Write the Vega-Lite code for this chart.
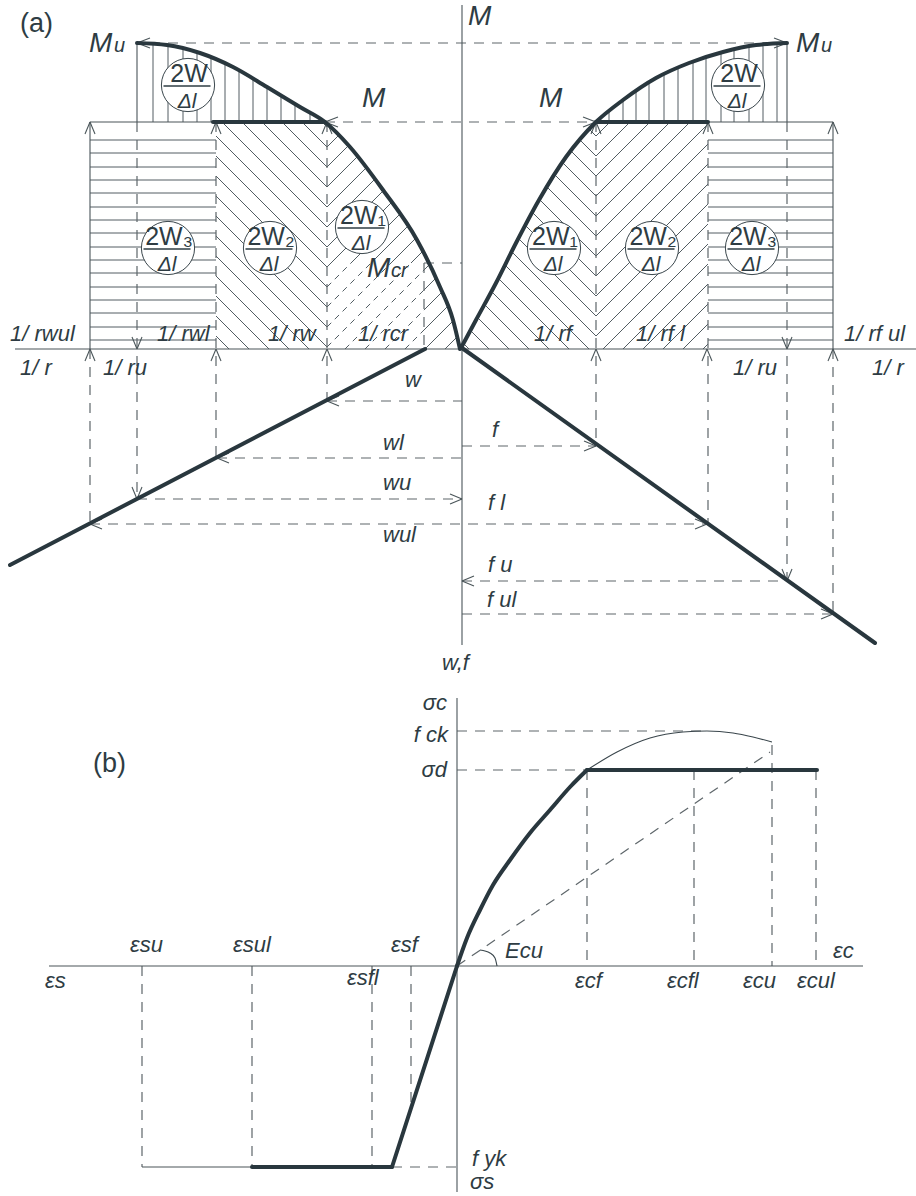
{
"$schema": "https://vega.github.io/schema/vega-lite/v6.json",
"width": 916, "height": 1196, "autosize": "none", "padding": 0, "background": "white",
"config": {"view": {"stroke": null}},
"datasets": {
"thin": [
{"x":462,"y":5,"x2":462,"y2":645},{"x":15,"y":349,"x2":916,"y2":349},{"x":90,"y":122,"x2":90,"y2":349},{"x":90,"y":122,"x2":213,"y2":122},{"x":137,"y":43,"x2":137,"y2":122},{"x":708,"y":122,"x2":833,"y2":122},{"x":833,"y":122,"x2":833,"y2":349},{"x":787,"y":43,"x2":787,"y2":122},
{"x":457,"y":698,"x2":457,"y2":1192},{"x":49,"y":966,"x2":863,"y2":966},{"x":142,"y":1167,"x2":252,"y2":1167},
{"x":137,"y":43,"x2":150,"y2":38},{"x":137,"y":43,"x2":150,"y2":48},{"x":787,"y":43,"x2":774,"y2":38},{"x":787,"y":43,"x2":774,"y2":48},
{"x":325,"y":122,"x2":338,"y2":117},{"x":325,"y":122,"x2":338,"y2":127},{"x":596,"y":122,"x2":583,"y2":117},{"x":596,"y":122,"x2":583,"y2":127},
{"x":90,"y":122,"x2":85,"y2":134},{"x":90,"y":122,"x2":95,"y2":134},{"x":216,"y":122,"x2":211,"y2":134},{"x":216,"y":122,"x2":221,"y2":134},{"x":327,"y":122,"x2":322,"y2":134},{"x":327,"y":122,"x2":332,"y2":134},
{"x":596,"y":122,"x2":591,"y2":134},{"x":596,"y":122,"x2":601,"y2":134},{"x":708,"y":122,"x2":703,"y2":134},{"x":708,"y":122,"x2":713,"y2":134},{"x":833,"y":122,"x2":828,"y2":134},{"x":833,"y":122,"x2":838,"y2":134},
{"x":90,"y":349,"x2":85,"y2":361},{"x":90,"y":349,"x2":95,"y2":361},{"x":216,"y":349,"x2":211,"y2":361},{"x":216,"y":349,"x2":221,"y2":361},{"x":327,"y":349,"x2":322,"y2":361},{"x":327,"y":349,"x2":332,"y2":361},
{"x":596,"y":349,"x2":591,"y2":361},{"x":596,"y":349,"x2":601,"y2":361},{"x":707,"y":349,"x2":702,"y2":361},{"x":707,"y":349,"x2":712,"y2":361},{"x":833,"y":349,"x2":828,"y2":361},{"x":833,"y":349,"x2":838,"y2":361},
{"x":137,"y":349,"x2":132,"y2":337},{"x":137,"y":349,"x2":142,"y2":337},{"x":787,"y":349,"x2":782,"y2":337},{"x":787,"y":349,"x2":792,"y2":337},
{"x":137,"y":499,"x2":132,"y2":487},{"x":137,"y":499,"x2":142,"y2":487},{"x":787,"y":581,"x2":782,"y2":569},{"x":787,"y":581,"x2":792,"y2":569},
{"x":327,"y":401,"x2":339,"y2":396},{"x":327,"y":401,"x2":339,"y2":406},{"x":217,"y":458,"x2":229,"y2":453},{"x":217,"y":458,"x2":229,"y2":463},{"x":90,"y":524,"x2":102,"y2":519},{"x":90,"y":524,"x2":102,"y2":529},
{"x":462,"y":499,"x2":450,"y2":494},{"x":462,"y":499,"x2":450,"y2":504},
{"x":596,"y":446,"x2":584,"y2":441},{"x":596,"y":446,"x2":584,"y2":451},{"x":707,"y":524,"x2":695,"y2":519},{"x":707,"y":524,"x2":695,"y2":529},{"x":833,"y":614,"x2":821,"y2":609},{"x":833,"y":614,"x2":821,"y2":619},
{"x":462,"y":581,"x2":474,"y2":576},{"x":462,"y":581,"x2":474,"y2":586}
],
"dashed": [
{"x":150,"y":43,"x2":774,"y2":43},{"x":325,"y":122,"x2":596,"y2":122},{"x":137,"y":122,"x2":137,"y2":499},{"x":216,"y":122,"x2":216,"y2":458},{"x":327,"y":122,"x2":327,"y2":401},{"x":90,"y":349,"x2":90,"y2":524},
{"x":596,"y":122,"x2":596,"y2":446},{"x":708,"y":122,"x2":708,"y2":524},{"x":787,"y":122,"x2":787,"y2":581},{"x":833,"y":349,"x2":833,"y2":614},
{"x":424,"y":263,"x2":462,"y2":263},{"x":424,"y":263,"x2":424,"y2":349},
{"x":327,"y":401,"x2":462,"y2":401},{"x":217,"y":458,"x2":462,"y2":458},{"x":462,"y":446,"x2":596,"y2":446},{"x":137,"y":499,"x2":462,"y2":499},{"x":90,"y":524,"x2":707,"y2":524},{"x":462,"y":581,"x2":787,"y2":581},{"x":462,"y":614,"x2":833,"y2":614},
{"x":457,"y":731,"x2":707,"y2":731},{"x":457,"y":770,"x2":587,"y2":770},{"x":587,"y":770,"x2":587,"y2":966},{"x":694,"y":770,"x2":694,"y2":966},{"x":772,"y":745,"x2":772,"y2":966},{"x":816,"y":770,"x2":816,"y2":966},
{"x":457,"y":966,"x2":770,"y2":752},
{"x":142,"y":966,"x2":142,"y2":1167},{"x":252,"y":966,"x2":252,"y2":1167},{"x":372,"y":966,"x2":372,"y2":1167},{"x":411,"y":966,"x2":411,"y2":1105},{"x":392,"y":1167,"x2":457,"y2":1167}
],
"hatch": [
{"x":153,"y":44,"x2":153,"y2":122},{"x":168,"y":45,"x2":168,"y2":122},{"x":183,"y":49,"x2":183,"y2":122},{"x":197,"y":52,"x2":197,"y2":122},{"x":211,"y":58,"x2":211,"y2":122},{"x":225,"y":64,"x2":225,"y2":122},{"x":239,"y":70,"x2":239,"y2":122},{"x":253,"y":79,"x2":253,"y2":122},{"x":267,"y":87,"x2":267,"y2":122},{"x":281,"y":95,"x2":281,"y2":122},{"x":295,"y":104,"x2":295,"y2":122},{"x":310,"y":113,"x2":310,"y2":122},
{"x":609,"y":111,"x2":609,"y2":122},{"x":623,"y":100,"x2":623,"y2":122},{"x":636,"y":91,"x2":636,"y2":122},{"x":649,"y":83,"x2":649,"y2":122},{"x":664,"y":74,"x2":664,"y2":122},{"x":678,"y":68,"x2":678,"y2":122},{"x":693,"y":62,"x2":693,"y2":122},{"x":706,"y":57,"x2":706,"y2":122},{"x":721,"y":53,"x2":721,"y2":122},{"x":734,"y":50,"x2":734,"y2":122},{"x":749,"y":46,"x2":749,"y2":122},{"x":763,"y":44,"x2":763,"y2":122},{"x":777,"y":44,"x2":777,"y2":122},
{"x":90,"y":140,"x2":216,"y2":140},{"x":90,"y":153,"x2":216,"y2":153},{"x":90,"y":167,"x2":216,"y2":167},{"x":90,"y":180,"x2":216,"y2":180},{"x":90,"y":193,"x2":216,"y2":193},{"x":90,"y":207,"x2":216,"y2":207},{"x":90,"y":220,"x2":216,"y2":220},{"x":90,"y":233,"x2":216,"y2":233},{"x":90,"y":247,"x2":216,"y2":247},{"x":90,"y":260,"x2":216,"y2":260},{"x":90,"y":273,"x2":216,"y2":273},{"x":90,"y":287,"x2":216,"y2":287},{"x":90,"y":300,"x2":216,"y2":300},{"x":90,"y":313,"x2":216,"y2":313},{"x":90,"y":327,"x2":216,"y2":327},{"x":90,"y":340,"x2":216,"y2":340},
{"x":708,"y":140,"x2":833,"y2":140},{"x":708,"y":153,"x2":833,"y2":153},{"x":708,"y":167,"x2":833,"y2":167},{"x":708,"y":180,"x2":833,"y2":180},{"x":708,"y":193,"x2":833,"y2":193},{"x":708,"y":207,"x2":833,"y2":207},{"x":708,"y":220,"x2":833,"y2":220},{"x":708,"y":233,"x2":833,"y2":233},{"x":708,"y":247,"x2":833,"y2":247},{"x":708,"y":260,"x2":833,"y2":260},{"x":708,"y":273,"x2":833,"y2":273},{"x":708,"y":287,"x2":833,"y2":287},{"x":708,"y":300,"x2":833,"y2":300},{"x":708,"y":313,"x2":833,"y2":313},{"x":708,"y":327,"x2":833,"y2":327},{"x":708,"y":340,"x2":833,"y2":340},
{"x":322,"y":122,"x2":327,"y2":127},{"x":302,"y":122,"x2":327,"y2":147},{"x":282,"y":122,"x2":327,"y2":167},{"x":262,"y":122,"x2":327,"y2":187},{"x":242,"y":122,"x2":327,"y2":207},{"x":222,"y":122,"x2":327,"y2":227},{"x":216,"y":136,"x2":327,"y2":247},{"x":216,"y":156,"x2":327,"y2":267},{"x":216,"y":176,"x2":327,"y2":287},{"x":216,"y":196,"x2":327,"y2":307},{"x":216,"y":216,"x2":327,"y2":327},{"x":216,"y":236,"x2":327,"y2":347},{"x":216,"y":256,"x2":309,"y2":349},{"x":216,"y":276,"x2":289,"y2":349},{"x":216,"y":296,"x2":269,"y2":349},{"x":216,"y":316,"x2":249,"y2":349},{"x":216,"y":336,"x2":229,"y2":349},
{"x":327,"y":147,"x2":338.5,"y2":135.5},{"x":327,"y":167,"x2":348.5,"y2":145.5},{"x":327,"y":187,"x2":357.4,"y2":156.6},{"x":327,"y":207,"x2":366.1,"y2":167.9},{"x":327,"y":227,"x2":374.8,"y2":179.2},{"x":327,"y":247,"x2":383.4,"y2":190.6},{"x":327,"y":267,"x2":391.5,"y2":202.5},{"x":351,"y":263,"x2":399.6,"y2":214.4},{"x":371,"y":263,"x2":407.7,"y2":226.3},{"x":391,"y":263,"x2":415.8,"y2":238.2},{"x":411,"y":263,"x2":422.6,"y2":251.4},{"x":424,"y":270,"x2":429.2,"y2":264.8},{"x":424,"y":290,"x2":435.7,"y2":278.3},{"x":424,"y":310,"x2":442,"y2":292},{"x":424,"y":330,"x2":447.6,"y2":306.4},{"x":425,"y":349,"x2":453.2,"y2":320.8},{"x":445,"y":349,"x2":457.1,"y2":336.9},
{"x":589.5,"y":129.5,"x2":596,"y2":136},{"x":580.3,"y":140.3,"x2":596,"y2":156},{"x":571.1,"y":151.1,"x2":596,"y2":176},{"x":562.5,"y":162.5,"x2":596,"y2":196},{"x":554.8,"y":174.8,"x2":596,"y2":216},{"x":547.1,"y":187.1,"x2":596,"y2":236},{"x":539.4,"y":199.4,"x2":596,"y2":256},{"x":532.4,"y":212.4,"x2":596,"y2":276},{"x":525.4,"y":225.4,"x2":596,"y2":296},{"x":518.4,"y":238.4,"x2":596,"y2":316},{"x":511.7,"y":251.7,"x2":596,"y2":336},{"x":505,"y":265,"x2":589,"y2":349},{"x":498.3,"y":278.3,"x2":569,"y2":349},{"x":491.4,"y":291.4,"x2":549,"y2":349},{"x":484.4,"y":304.4,"x2":529,"y2":349},{"x":477.4,"y":317.4,"x2":509,"y2":349},{"x":470.4,"y":330.4,"x2":489,"y2":349},{"x":463.4,"y":343.4,"x2":469,"y2":349},
{"x":596,"y":136,"x2":610,"y2":122},{"x":596,"y":156,"x2":630,"y2":122},{"x":596,"y":176,"x2":650,"y2":122},{"x":596,"y":196,"x2":670,"y2":122},{"x":596,"y":216,"x2":690,"y2":122},{"x":596,"y":236,"x2":708,"y2":124},{"x":596,"y":256,"x2":708,"y2":144},{"x":596,"y":276,"x2":708,"y2":164},{"x":596,"y":296,"x2":708,"y2":184},{"x":596,"y":316,"x2":708,"y2":204},{"x":596,"y":336,"x2":708,"y2":224},{"x":603,"y":349,"x2":708,"y2":244},{"x":623,"y":349,"x2":708,"y2":264},{"x":643,"y":349,"x2":708,"y2":284},{"x":663,"y":349,"x2":708,"y2":304},{"x":683,"y":349,"x2":708,"y2":324},{"x":703,"y":349,"x2":708,"y2":344}
],
"hatchDash": [
{"x":327,"y":287,"x2":351,"y2":263},{"x":327,"y":307,"x2":371,"y2":263},{"x":327,"y":327,"x2":391,"y2":263},{"x":327,"y":347,"x2":411,"y2":263},{"x":345,"y":349,"x2":424,"y2":270},{"x":365,"y":349,"x2":424,"y2":290},{"x":385,"y":349,"x2":424,"y2":310},{"x":405,"y":349,"x2":424,"y2":330}
],
"thick": [
{"s":"L","i":0,"x":137,"y":43},{"s":"L","i":1,"x":167,"y":45},{"s":"L","i":2,"x":200,"y":53},{"s":"L","i":3,"x":233,"y":67},{"s":"L","i":4,"x":267,"y":87},{"s":"L","i":5,"x":300,"y":107},{"s":"L","i":6,"x":325,"y":122},{"s":"L","i":7,"x":350,"y":147},{"s":"L","i":8,"x":383,"y":190},{"s":"L","i":9,"x":417,"y":240},{"s":"L","i":10,"x":440,"y":287},{"s":"L","i":11,"x":453,"y":320},{"s":"L","i":12,"x":460,"y":349},
{"s":"R","i":0,"x":461,"y":348},{"s":"R","i":1,"x":476,"y":320},{"s":"R","i":2,"x":496,"y":283},{"s":"R","i":3,"x":516,"y":243},{"s":"R","i":4,"x":539,"y":200},{"s":"R","i":5,"x":566,"y":157},{"s":"R","i":6,"x":596,"y":122},{"s":"R","i":7,"x":623,"y":100},{"s":"R","i":8,"x":656,"y":78},{"s":"R","i":9,"x":689,"y":63},{"s":"R","i":10,"x":723,"y":52},{"s":"R","i":11,"x":756,"y":45},{"s":"R","i":12,"x":787,"y":43},
{"s":"LM","i":0,"x":213,"y":122},{"s":"LM","i":1,"x":325,"y":122},
{"s":"RM","i":0,"x":596,"y":122},{"s":"RM","i":1,"x":708,"y":122},
{"s":"Lw","i":0,"x":425,"y":349},{"s":"Lw","i":1,"x":10,"y":565},
{"s":"Rf","i":0,"x":462,"y":348},{"s":"Rf","i":1,"x":875,"y":643},
{"s":"C","i":0,"x":457,"y":966},{"s":"C","i":1,"x":467,"y":938},{"s":"C","i":2,"x":480,"y":910},{"s":"C","i":3,"x":493,"y":885},{"s":"C","i":4,"x":510,"y":860},{"s":"C","i":5,"x":530,"y":833},{"s":"C","i":6,"x":550,"y":810},{"s":"C","i":7,"x":570,"y":787},{"s":"C","i":8,"x":587,"y":770},
{"s":"Cp","i":0,"x":587,"y":770},{"s":"Cp","i":1,"x":817,"y":770},
{"s":"S1","i":0,"x":252,"y":1167},{"s":"S1","i":1,"x":392,"y":1167},
{"s":"S2","i":0,"x":392,"y":1167},{"s":"S2","i":1,"x":457,"y":966}
],
"thinCurve": [
{"s":"T","i":0,"x":587,"y":770},{"s":"T","i":1,"x":617,"y":752},{"s":"T","i":2,"x":650,"y":738},{"s":"T","i":3,"x":683,"y":732},{"s":"T","i":4,"x":707,"y":731},{"s":"T","i":5,"x":733,"y":733},{"s":"T","i":6,"x":753,"y":737},{"s":"T","i":7,"x":772,"y":742},
{"s":"A","i":0,"x":480,"y":950},{"s":"A","i":1,"x":490,"y":953},{"s":"A","i":2,"x":495,"y":958},{"s":"A","i":3,"x":497,"y":966}
],
"circles": [
{"x":188,"y":85,"top":"2W"},{"x":168,"y":248,"top":"2W₃"},{"x":270,"y":248,"top":"2W₂"},{"x":362,"y":227,"top":"2W₁"},
{"x":554,"y":248,"top":"2W₁"},{"x":652,"y":248,"top":"2W₂"},{"x":752,"y":248,"top":"2W₃"},{"x":738,"y":85,"top":"2W"}
],
"panelLbl": [{"t":"(a)","x":20,"y":32},{"t":"(b)","x":93,"y":772}],
"mBig": [{"t":"M","x":468,"y":25},{"t":"M","x":89,"y":52},{"t":"M","x":796,"y":52},{"t":"M","x":362,"y":107},{"t":"M","x":539,"y":107},{"t":"M","x":367,"y":277}],
"mSub": [{"t":"u","x":114,"y":52},{"t":"u","x":821,"y":52},{"t":"cr","x":391,"y":277}],
"lblL": [
{"t":"1/ rwul","x":10,"y":341},{"t":"1/ rwl","x":157,"y":341},{"t":"1/ rw","x":268,"y":341},{"t":"1/ rcr","x":358,"y":341},{"t":"1/ rf","x":534,"y":341},{"t":"1/ rf l","x":636,"y":341},{"t":"1/ rf ul","x":844,"y":341},
{"t":"1/ r","x":20,"y":375},{"t":"1/ ru","x":103,"y":375},{"t":"1/ ru","x":733,"y":375},{"t":"1/ r","x":872,"y":375},
{"t":"w","x":405,"y":387},{"t":"wl","x":383,"y":450},{"t":"wu","x":383,"y":490},{"t":"wul","x":383,"y":542},
{"t":"f","x":492,"y":437},{"t":"f l","x":488,"y":510},{"t":"f u","x":488,"y":572},{"t":"f ul","x":487,"y":607},
{"t":"w,f","x":442,"y":670},
{"t":"εc","x":833,"y":958},{"t":"Ecu","x":505,"y":958},{"t":"εcf","x":575,"y":988},{"t":"εcfl","x":667,"y":988},{"t":"εcu","x":743,"y":988},{"t":"εcul","x":797,"y":988},
{"t":"εsf","x":391,"y":952},{"t":"εsu","x":130,"y":952},{"t":"εsul","x":233,"y":952},{"t":"εs","x":45,"y":988},{"t":"εsfl","x":347,"y":985},
{"t":"f yk","x":472,"y":1166},{"t":"σs","x":470,"y":1189}
],
"lblR": [{"t":"σc","x":447,"y":710},{"t":"f ck","x":448,"y":742},{"t":"σd","x":447,"y":777}]
},
"encoding": {
"x": {"field":"x","type":"quantitative","scale":{"domain":[0,916],"nice":false,"zero":false},"axis":null},
"y": {"field":"y","type":"quantitative","scale":{"domain":[0,1196],"nice":false,"zero":false,"reverse":true},"axis":null}
},
"layer": [
{"data":{"name":"hatch"},"mark":{"type":"rule","color":"#3e4a50","strokeWidth":0.9},"encoding":{"x2":{"field":"x2"},"y2":{"field":"y2"}}},
{"data":{"name":"hatchDash"},"mark":{"type":"rule","color":"#3e4a50","strokeWidth":0.9,"strokeDash":[6,5]},"encoding":{"x2":{"field":"x2"},"y2":{"field":"y2"}}},
{"data":{"name":"dashed"},"mark":{"type":"rule","color":"#5e666a","strokeWidth":1.2,"strokeDash":[10,8]},"encoding":{"x2":{"field":"x2"},"y2":{"field":"y2"}}},
{"data":{"name":"thin"},"mark":{"type":"rule","color":"#4a5559","strokeWidth":1.1},"encoding":{"x2":{"field":"x2"},"y2":{"field":"y2"}}},
{"data":{"name":"thinCurve"},"mark":{"type":"line","color":"#3a464c","strokeWidth":1.1,"interpolate":"monotone"},"encoding":{"detail":{"field":"s"},"order":{"field":"i"}}},
{"data":{"name":"thick"},"mark":{"type":"line","color":"#29373e","strokeWidth":4,"strokeCap":"round","strokeJoin":"round","interpolate":"monotone"},"encoding":{"detail":{"field":"s"},"order":{"field":"i"}}},
{"data":{"name":"circles"},"mark":{"type":"point","shape":"circle","size":2830,"filled":true,"fill":"white","stroke":"#3a464c","strokeWidth":1,"opacity":1}},
{"data":{"name":"circles"},"mark":{"type":"point","shape":"M-1,0L1,0","size":2209,"filled":false,"stroke":"#2e3c43","strokeWidth":1.6,"yOffset":1,"xOffset":-1,"opacity":1}},
{"data":{"name":"circles"},"mark":{"type":"text","font":"Liberation Sans","fontSize":25,"color":"#2e3c43","align":"center","baseline":"alphabetic","dx":1,"dy":-3},"encoding":{"text":{"field":"top"}}},
{"data":{"name":"circles"},"mark":{"type":"text","font":"Liberation Sans","fontSize":21,"fontStyle":"italic","color":"#2e3c43","align":"center","baseline":"alphabetic","dx":-1,"dy":23},"encoding":{"text":{"value":"Δl"}}},
{"data":{"name":"panelLbl"},"mark":{"type":"text","font":"Liberation Sans","fontSize":27,"color":"#2e3c43","align":"left","baseline":"alphabetic"},"encoding":{"text":{"field":"t"}}},
{"data":{"name":"mBig"},"mark":{"type":"text","font":"Liberation Sans","fontSize":28,"fontStyle":"italic","color":"#2e3c43","align":"left","baseline":"alphabetic"},"encoding":{"text":{"field":"t"}}},
{"data":{"name":"mSub"},"mark":{"type":"text","font":"Liberation Sans","fontSize":20,"fontStyle":"italic","color":"#2e3c43","align":"left","baseline":"alphabetic"},"encoding":{"text":{"field":"t"}}},
{"data":{"name":"lblL"},"mark":{"type":"text","font":"Liberation Sans","fontSize":22,"fontStyle":"italic","color":"#2e3c43","align":"left","baseline":"alphabetic"},"encoding":{"text":{"field":"t"}}},
{"data":{"name":"lblR"},"mark":{"type":"text","font":"Liberation Sans","fontSize":22,"fontStyle":"italic","color":"#2e3c43","align":"right","baseline":"alphabetic"},"encoding":{"text":{"field":"t"}}}
]
}
